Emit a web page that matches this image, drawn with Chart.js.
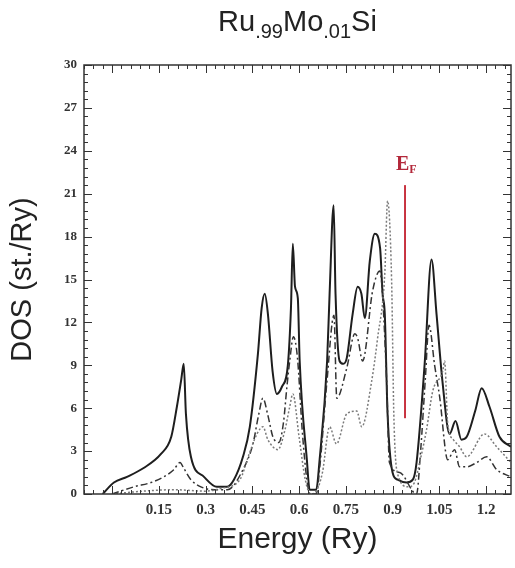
<!DOCTYPE html>
<html>
<head>
<meta charset="utf-8">
<script src="https://cdn.jsdelivr.net/npm/chart.js@4.4.0/dist/chart.umd.min.js"></script>
<style>
  html, body { margin: 0; padding: 0; background: #fff; }
  #wrap { position: relative; width: 515px; height: 568px; }
  #title {
    position: absolute; left: 84px; width: 427px; top: 7px;
    text-align: center; line-height: 1;
    font-family: "Liberation Sans", Arial, sans-serif; font-size: 29px; color: #222;
  }
  #title sub { font-size: 20px; vertical-align: baseline; position: relative; top: 7px; }
  canvas { position: absolute; left: 0; top: 0; }
</style>
</head>
<body>
<div id="wrap">
  <canvas id="dosChart" width="515" height="568"></canvas>
  <div id="title">Ru<sub>.99</sub>Mo<sub>.01</sub>Si</div>
</div>
<script>
// Solid curve (total DOS)
const solidEnergy = [-0.03, 0.006, 0.048, 0.10, 0.157, 0.19, 0.208, 0.222, 0.23, 0.237, 0.253, 0.295, 0.336, 0.368, 0.391, 0.42, 0.442, 0.468, 0.48, 0.49, 0.50, 0.515, 0.529, 0.545, 0.564, 0.574, 0.58, 0.587, 0.596, 0.602, 0.625, 0.634, 0.655, 0.666, 0.69, 0.698, 0.711, 0.717, 0.73, 0.742, 0.753, 0.772, 0.788, 0.80, 0.811, 0.827, 0.843, 0.86, 0.868, 0.875, 0.884, 0.90, 0.916, 0.945, 0.965, 0.977, 1.003, 1.025, 1.041, 1.06, 1.083, 1.102, 1.121, 1.138, 1.165, 1.186, 1.211, 1.243, 1.28];
const solidDOS = [0, 0.8, 1.2, 1.8, 2.8, 4.0, 6.1, 8.0, 9.1, 5.6, 2.6, 1.2, 0.5, 0.5, 1.0, 2.6, 4.7, 9.8, 13.0, 14.0, 12.6, 8.6, 7.0, 7.5, 9.0, 13.0, 17.5, 14.5, 13.7, 9.3, 2.4, 0.3, 0.3, 2.4, 9.3, 14.0, 20.2, 14.0, 9.3, 9.1, 9.5, 12.6, 14.5, 14.0, 12.3, 16.3, 18.2, 17.2, 14.0, 12.6, 5.6, 1.5, 1.0, 0.8, 1.0, 2.2, 9.1, 16.4, 12.6, 7.9, 4.2, 5.1, 3.8, 4.0, 5.8, 7.4, 6.1, 4.0, 3.3];

// Dash-dot curve
const dashEnergy = [0.0, 0.07, 0.125, 0.166, 0.198, 0.218, 0.23, 0.253, 0.285, 0.33, 0.37, 0.42, 0.452, 0.47, 0.484, 0.50, 0.516, 0.535, 0.55, 0.561, 0.57, 0.582, 0.595, 0.61, 0.625, 0.636, 0.655, 0.667, 0.69, 0.712, 0.721, 0.753, 0.779, 0.788, 0.804, 0.836, 0.859, 0.866, 0.881, 0.89, 0.923, 0.977, 0.99, 1.005, 1.017, 1.035, 1.051, 1.077, 1.099, 1.115, 1.138, 1.17, 1.202, 1.234, 1.28];
const dashDOS = [0, 0.5, 0.8, 1.2, 1.7, 2.2, 1.8, 1.0, 0.5, 0.3, 0.3, 1.7, 3.5, 5.5, 6.7, 5.5, 4.0, 3.6, 5.0, 7.5, 9.3, 11.0, 9.5, 4.5, 1.0, 0, 0, 2.0, 8.0, 12.5, 6.7, 8.8, 11.2, 10.9, 9.3, 14.2, 15.6, 14.5, 7.9, 2.2, 1.5, 0, 3.0, 8.0, 11.8, 9.0, 6.8, 2.4, 3.1, 1.9, 1.9, 2.2, 2.6, 1.7, 1.2];

// Dotted curve
const dotEnergy = [0.0, 0.1, 0.2, 0.3, 0.35, 0.41, 0.44, 0.465, 0.484, 0.50, 0.532, 0.555, 0.57, 0.58, 0.60, 0.62, 0.637, 0.655, 0.675, 0.698, 0.72, 0.753, 0.785, 0.801, 0.833, 0.852, 0.875, 0.884, 0.897, 0.904, 0.915, 0.95, 0.97, 0.99, 1.009, 1.029, 1.061, 1.067, 1.077, 1.095, 1.115, 1.138, 1.195, 1.234, 1.28];
const dotDOS = [0, 0.2, 0.3, 0.2, 0.4, 1.0, 2.8, 4.2, 4.7, 3.8, 3.1, 4.5, 6.1, 7.0, 4.0, 1.0, 0, 0.2, 1.5, 4.7, 3.5, 5.6, 5.8, 4.7, 7.9, 10.9, 15.4, 20.5, 14.9, 5.6, 1.5, 0.5, 0.8, 2.5, 4.5, 7.2, 8.6, 9.3, 4.9, 3.8, 3.3, 2.6, 4.2, 3.3, 2.2];

// Fermi level marker
const efEnergy = 0.94;
const efDOS = [5.3, 21.6];

// Axes
const xTickValues = [0.15, 0.3, 0.45, 0.6, 0.75, 0.9, 1.05, 1.2];
const xTickLabels = ['0.15', '0.3', '0.45', '0.6', '0.75', '0.9', '1.05', '1.2'];
const yTickValues = [0, 3, 6, 9, 12, 15, 18, 21, 24, 27, 30];
const xMinorStep = 0.03;
const yMinorStep = 0.6;

function toPoints(xs, ys) {
    return xs.map((x, i) => ({ x: x, y: ys[i] }));
}

const serif = '"Liberation Serif", "Times New Roman", serif';
const sans = '"Liberation Sans", Arial, sans-serif';

// frame with inward ticks on all four sides, plus the E_F label
const frameTicks = {
    id: 'frameTicks',
    afterDatasetsDraw(chart) {
        const { ctx, chartArea: a, scales: { x, y } } = chart;
        ctx.save();
        ctx.strokeStyle = '#333';
        ctx.lineWidth = 1;
        ctx.beginPath();
        for (let k = Math.ceil(x.min / xMinorStep); k * xMinorStep <= x.max + 1e-9; k++) {
            const px = Math.round(x.getPixelForValue(k * xMinorStep)) + 0.5;
            const len = k % 5 === 0 ? 8 : 4;
            ctx.moveTo(px, a.bottom); ctx.lineTo(px, a.bottom - len);
            ctx.moveTo(px, a.top); ctx.lineTo(px, a.top + len);
        }
        for (let k = 0; k * yMinorStep <= y.max + 1e-9; k++) {
            const py = Math.round(y.getPixelForValue(k * yMinorStep)) + 0.5;
            const len = k % 5 === 0 ? 8 : 4;
            ctx.moveTo(a.left, py); ctx.lineTo(a.left + len, py);
            ctx.moveTo(a.right, py); ctx.lineTo(a.right - len, py);
        }
        ctx.stroke();
        ctx.lineWidth = 1.5;
        ctx.strokeRect(a.left, a.top, a.right - a.left, a.bottom - a.top);

        // E_F label
        const lx = x.getPixelForValue(efEnergy);
        const ly = y.getPixelForValue(efDOS[1]) - 15;
        ctx.fillStyle = '#b3283a';
        ctx.textBaseline = 'alphabetic';
        ctx.font = 'bold 20px ' + serif;
        const ew = ctx.measureText('E').width;
        ctx.fillText('E', lx - 9, ly);
        ctx.font = 'bold 12px ' + serif;
        ctx.fillText('F', lx - 9 + ew, ly + 3);
        ctx.restore();
    }
};

const ctx = document.getElementById('dosChart').getContext('2d');
new Chart(ctx, {
    type: 'line',
    data: {
        datasets: [
            {
                data: toPoints(dotEnergy, dotDOS),
                borderColor: '#7a7a7a',
                borderWidth: 1.5,
                borderDash: [2, 2],
                pointRadius: 0,
                cubicInterpolationMode: 'monotone'
            },
            {
                data: toPoints(dashEnergy, dashDOS),
                borderColor: '#333',
                borderWidth: 1.5,
                borderDash: [7, 3, 2, 3],
                pointRadius: 0,
                cubicInterpolationMode: 'monotone'
            },
            {
                data: toPoints(solidEnergy, solidDOS),
                borderColor: '#1e1e1e',
                borderWidth: 2,
                pointRadius: 0,
                cubicInterpolationMode: 'monotone'
            },
            {
                data: efDOS.map(v => ({ x: efEnergy, y: v })),
                borderColor: '#c8323f',
                borderWidth: 2,
                pointRadius: 0
            }
        ]
    },
    options: {
        responsive: false,
        animation: false,
        layout: { padding: { top: 65, right: 4, left: 0, bottom: 0 } },
        plugins: { legend: { display: false }, tooltip: { enabled: false } },
        scales: {
            x: {
                type: 'linear',
                min: -0.09,
                max: 1.28,
                afterBuildTicks: (scale) => { scale.ticks = xTickValues.map(v => ({ value: v })); },
                afterFit: (scale) => { scale.height = 74; },
                grid: { display: false, drawTicks: false },
                border: { display: false },
                ticks: {
                    font: { family: serif, size: 15, weight: 'bold' },
                    color: '#333',
                    padding: 7,
                    maxRotation: 0,
                    autoSkip: false,
                    callback: (value, index) => xTickLabels[index]
                },
                title: {
                    display: true,
                    text: 'Energy (Ry)',
                    font: { family: sans, size: 30 },
                    color: '#222',
                    padding: { top: 0, bottom: 10 }
                }
            },
            y: {
                type: 'linear',
                min: 0,
                max: 30,
                afterBuildTicks: (scale) => { scale.ticks = yTickValues.map(v => ({ value: v })); },
                afterFit: (scale) => { scale.width = 84; },
                grid: { display: false, drawTicks: false },
                border: { display: false },
                ticks: {
                    font: { family: serif, size: 13, weight: 'bold' },
                    color: '#333',
                    padding: 7,
                    autoSkip: false
                },
                title: {
                    display: true,
                    text: 'DOS (st./Ry)',
                    font: { family: sans, size: 29 },
                    color: '#222',
                    padding: { top: 6, bottom: 0 }
                }
            }
        }
    },
    plugins: [frameTicks]
});
</script>
</body>
</html>
